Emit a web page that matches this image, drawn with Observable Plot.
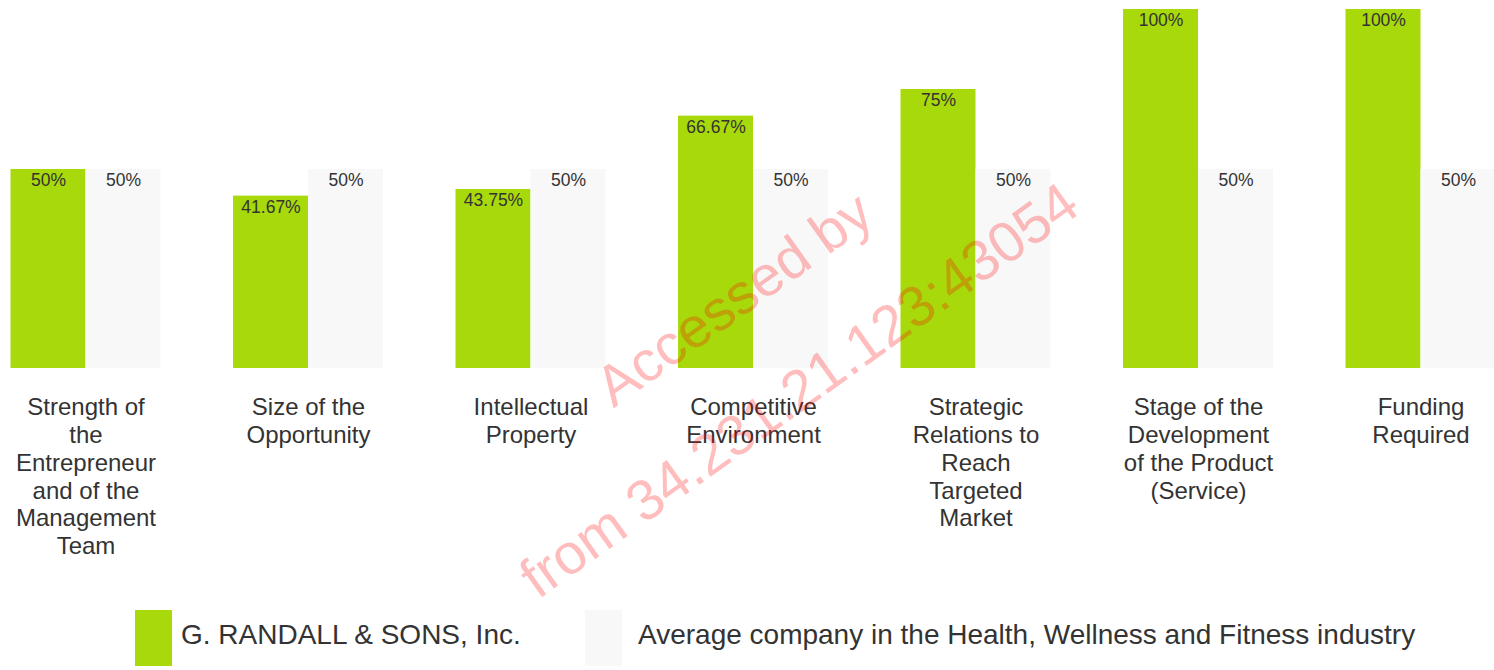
<!DOCTYPE html>
<html>
<head>
<meta charset="utf-8">
<script src="https://cdn.jsdelivr.net/npm/d3@7"></script>
<script src="https://cdn.jsdelivr.net/npm/@observablehq/plot@0.6"></script>
<style>
  html, body { margin: 0; padding: 0; background: #fff; }
  body { width: 1494px; height: 670px; position: relative; overflow: hidden; font-family: "Liberation Sans", Arial, sans-serif; }
  #chart svg { display: block; }
  #legend { position: relative; height: 70px; }
  .sw { position: absolute; top: 10px; width: 37px; height: 56px; }
  .lt { position: absolute; top: 19px; font-size: 28px; line-height: 32px; color: #333; white-space: nowrap; }
  #wm { position: absolute; left: 766px; top: 344px; transform: translate(-50%, -50%) rotate(-35.5deg);
        font-size: 57px; line-height: 112px; color: rgba(255, 0, 0, 0.26); text-align: center; white-space: nowrap; pointer-events: none; }
</style>
</head>
<body>
<div id="chart"></div>
<div id="legend"></div>
<div id="wm">Accessed by<br>from 34.231.21.123:43054</div>
<script>
const categories = [
  "Strength of the Entrepreneur and of the Management Team",
  "Size of the Opportunity",
  "Intellectual Property",
  "Competitive Environment",
  "Strategic Relations to Reach Targeted Market",
  "Stage of the Development of the Product (Service)",
  "Funding Required"
];
const tickLabels = [
  "Strength of\nthe\nEntrepreneur\nand of the\nManagement\nTeam",
  "Size of the\nOpportunity",
  "Intellectual\nProperty",
  "Competitive\nEnvironment",
  "Strategic\nRelations to\nReach\nTargeted\nMarket",
  "Stage of the\nDevelopment\nof the Product\n(Service)",
  "Funding\nRequired"
];
const seriesNames = [
  "G. RANDALL & SONS, Inc.",
  "Average company in the Health, Wellness and Fitness industry"
];
const companyValues = [50, 41.67, 43.75, 66.67, 75, 100, 100];
const averageValues = [50, 50, 50, 50, 50, 50, 50];
const seriesColors = ["#a8d90b", "#f8f8f8"];
const yMin = -12.2;

const rows = categories.flatMap((c, i) => [
  {category: c, series: seriesNames[0], value: companyValues[i]},
  {category: c, series: seriesNames[1], value: averageValues[i]}
]);

const chart = Plot.plot({
  width: 1494,
  height: 600,
  marginTop: 9,
  marginBottom: 232,
  marginLeft: 0,
  marginRight: 0,
  style: {fontFamily: "'Liberation Sans', Arial, sans-serif", background: "transparent"},
  fx: {domain: categories, range: [10.5, 1495.5], paddingInner: 0.326, paddingOuter: 0, round: false, axis: null, label: null},
  x: {domain: seriesNames, padding: 0, round: false, axis: null, label: null},
  y: {domain: [yMin, 100], axis: null},
  color: {domain: seriesNames, range: seriesColors},
  marks: [
    Plot.barY(rows, {fx: "category", x: "series", y1: yMin, y2: "value", fill: "series", inset: 0}),
    Plot.text(rows, {fx: "category", x: "series", y: "value", text: d => d.value + "%", dy: 11, fontSize: 17.5, fill: "#333"}),
    Plot.text(categories, {fx: d => d, text: (d, i) => tickLabels[i], frameAnchor: "bottom", lineAnchor: "top", dy: 27, fontSize: 24, lineHeight: 1.158, fill: "#333"})
  ]
});
document.getElementById("chart").appendChild(chart);

const legend = document.getElementById("legend");
const legendPos = [{sw: 135, tx: 181}, {sw: 585, tx: 638}];
seriesNames.forEach((name, i) => {
  const sw = document.createElement("div");
  sw.className = "sw";
  sw.style.left = legendPos[i].sw + "px";
  sw.style.background = seriesColors[i];
  legend.appendChild(sw);
  const t = document.createElement("div");
  t.className = "lt";
  t.style.left = legendPos[i].tx + "px";
  t.textContent = name;
  legend.appendChild(t);
});
</script>
</body>
</html>
